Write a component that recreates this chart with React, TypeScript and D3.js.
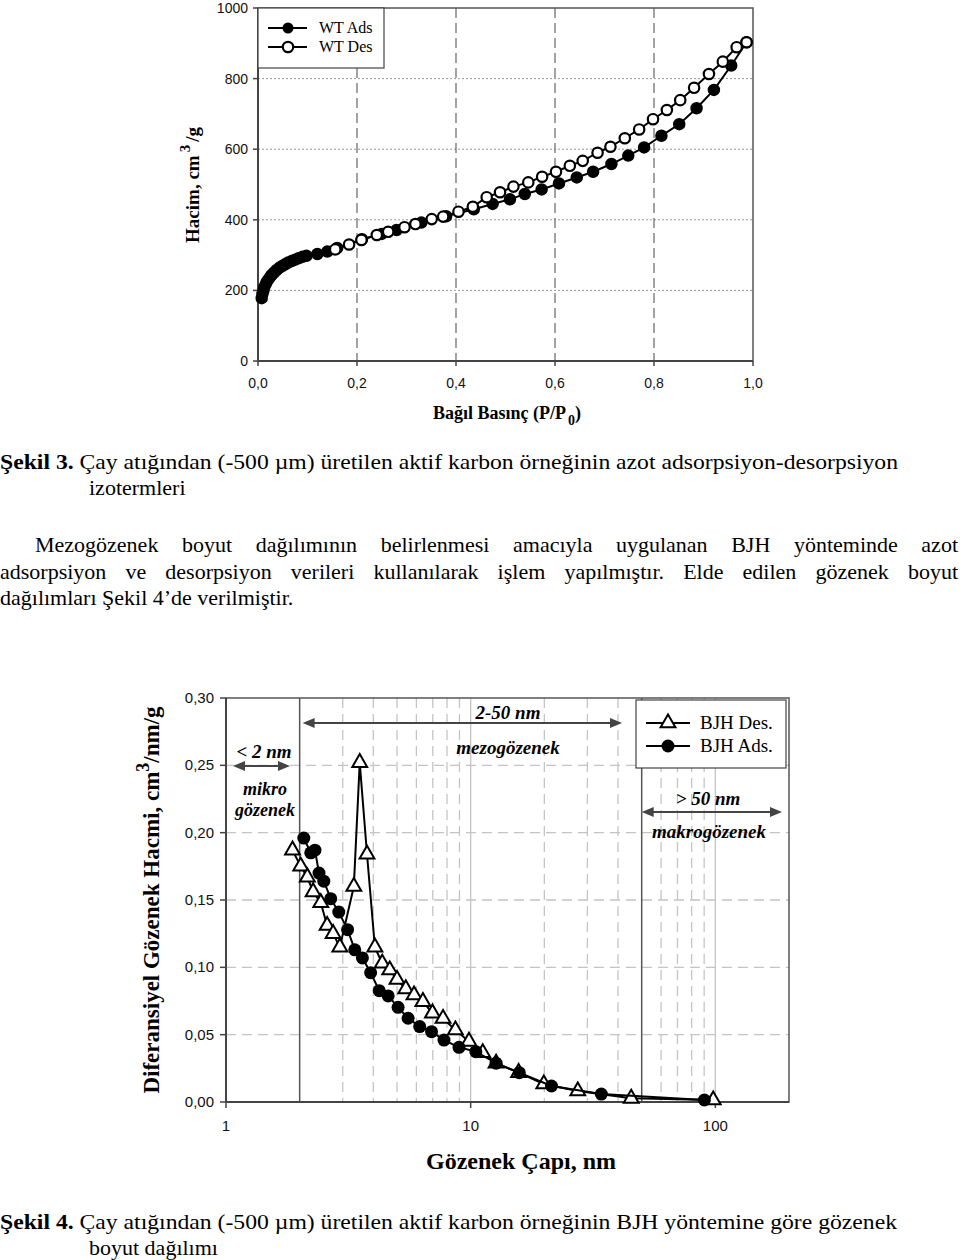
import React, { useLayoutEffect, useRef } from "react";
import * as d3 from "d3";

// ---------- Şekil 3 data (isotherm) ----------
const adsP = [0.0075, 0.009, 0.011, 0.013, 0.016, 0.019, 0.023, 0.027, 0.032, 0.037, 0.043, 0.049, 0.055, 0.061, 0.068, 0.075, 0.082, 0.09, 0.098, 0.12, 0.14, 0.16, 0.21, 0.25, 0.28, 0.33, 0.38, 0.436, 0.474, 0.509, 0.539, 0.573, 0.608, 0.644, 0.677, 0.714, 0.748, 0.78, 0.815, 0.851, 0.886, 0.921, 0.956, 0.987];
const adsV = [178, 190, 200, 210, 219, 227, 235, 243, 250, 257, 264, 269, 274, 279, 283, 287, 291, 295, 298, 303, 310, 320, 345, 360, 371, 392, 410, 430, 445, 458, 473, 486, 503, 520, 536, 558, 582, 605, 638, 671, 716, 768, 837, 903];
const desP = [0.987, 0.967, 0.939, 0.911, 0.881, 0.853, 0.826, 0.798, 0.77, 0.741, 0.712, 0.686, 0.656, 0.63, 0.602, 0.574, 0.546, 0.516, 0.489, 0.462, 0.434, 0.405, 0.374, 0.351, 0.318, 0.296, 0.263, 0.24, 0.209, 0.184, 0.156];
const desV = [903, 889, 848, 813, 774, 739, 711, 685, 656, 631, 607, 590, 567, 553, 536, 522, 506, 494, 478, 464, 437, 423, 409, 402, 388, 379, 366, 357, 343, 330, 316];
const isoXTicks = [0, 0.2, 0.4, 0.6, 0.8, 1.0];
const isoYTicks = [0, 200, 400, 600, 800, 1000];

// ---------- Şekil 4 data (BJH) ----------
const bjhDesD = [1.87, 2.02, 2.15, 2.27, 2.44, 2.59, 2.74, 2.92, 3.33, 3.52, 3.77, 4.06, 4.35, 4.67, 5.0, 5.43, 5.87, 6.38, 6.98, 7.71, 8.66, 9.84, 11.2, 12.7, 15.7, 19.9, 27.4, 45.3, 98];
const bjhDesV = [0.187, 0.175, 0.167, 0.156, 0.148, 0.131, 0.125, 0.115, 0.16, 0.252, 0.184, 0.115, 0.103, 0.098, 0.091, 0.084, 0.0795, 0.0745, 0.066, 0.062, 0.0535, 0.045, 0.0366, 0.0288, 0.0218, 0.0134, 0.0082, 0.0027, 0.0015];
const bjhAdsD = [2.08, 2.22, 2.31, 2.4, 2.51, 2.68, 2.89, 3.14, 3.36, 3.61, 3.9, 4.23, 4.6, 5.05, 5.55, 6.19, 6.92, 7.78, 8.96, 10.5, 12.7, 15.8, 21.4, 34.2, 90.2];
const bjhAdsV = [0.196, 0.185, 0.187, 0.17, 0.164, 0.151, 0.141, 0.128, 0.113, 0.107, 0.096, 0.0827, 0.0788, 0.0703, 0.0622, 0.056, 0.0522, 0.046, 0.0406, 0.0374, 0.0288, 0.0218, 0.0119, 0.0059, 0.0015];
const bjhXTicks = [1, 10, 100];
const bjhYTicks = [0, 0.05, 0.1, 0.15, 0.2, 0.25, 0.3];
const bjhMinor = [2, 3, 4, 5, 6, 7, 8, 9, 20, 30, 40, 50, 60, 70, 80, 90];

const SERIF = "'Liberation Serif', 'Times New Roman', serif";
const SANS = "'Liberation Sans', Arial, sans-serif";

function Justified(props: any) {
  const ref = useRef<SVGTextElement | null>(null);
  const { x, y, width, fontSize, children } = props;
  useLayoutEffect(() => {
    const el = ref.current;
    if (!el) return;
    el.setAttribute("word-spacing", "0");
    const len = el.getComputedTextLength();
    const txt = el.textContent || "";
    const spaces = (txt.match(/ /g) || []).length;
    if (spaces > 0) el.setAttribute("word-spacing", String((width - len) / spaces));
  }, [width]);
  return (
    <text ref={ref} x={x} y={y} fontSize={fontSize} fontFamily={SERIF} fill="#000">
      {children}
    </text>
  );
}

function Arrow({ x1, x2, y, both }: any) {
  const h = 8, w = 5;
  return (
    <g>
      <line x1={x1 + (both ? h : 0)} x2={x2 - h} y1={y} y2={y} stroke="#444" strokeWidth={2} />
      <path d={`M${x2},${y}L${x2 - h - 4},${y - w}L${x2 - h - 4},${y + w}Z`} fill="#444" />
      <path d={`M${x1},${y}L${x1 + h + 4},${y - w}L${x1 + h + 4},${y + w}Z`} fill="#444" />
    </g>
  );
}

export default function App() {
  // Top chart scales
  const xT = d3.scaleLinear().domain([0, 1]).range([258, 753]);
  const yT = d3.scaleLinear().domain([0, 1000]).range([361, 8]);
  const lineT = d3.line<[number, number]>().x((d) => xT(d[0])).y((d) => yT(d[1]));
  const adsPts: [number, number][] = adsP.map((p, i) => [p, adsV[i]]);
  const desPts: [number, number][] = desP.map((p, i) => [p, desV[i]]);

  // Bottom chart scales
  const xB = d3.scaleLog().domain([1, 200]).range([226, 789]);
  const yB = d3.scaleLinear().domain([0, 0.3]).range([1102, 698]);
  const lineB = d3.line<[number, number]>().x((d) => xB(d[0])).y((d) => yB(d[1]));
  const bDes: [number, number][] = bjhDesD.map((d, i) => [d, bjhDesV[i]]);
  const bAds: [number, number][] = bjhAdsD.map((d, i) => [d, bjhAdsV[i]]);
  const tri = d3.symbol().type(d3.symbolTriangle).size(95)();
  const fmt2 = (v: number) => v.toFixed(2).replace(".", ",");
  const fmt1 = (v: number) => v.toFixed(1).replace(".", ",");

  const [tx0, tx1] = xT.range();
  const [ty0, ty1] = yT.range();
  const [bx0, bx1] = xB.range();
  const [by0, by1] = yB.range();

  return (
    <svg width={960} height={1260} style={{ position: "absolute", left: 0, top: 0, background: "#fff" }}>
      <rect x={0} y={0} width={960} height={1260} fill="#fff" />

      {/* ================= TOP CHART ================= */}
      {isoYTicks.filter((t) => t > 0 && t < 1000).map((t) => (
        <line key={"hg" + t} x1={tx0} x2={tx1} y1={yT(t)} y2={yT(t)} stroke="#999" strokeWidth={1} strokeDasharray="2,2" />
      ))}
      {isoXTicks.filter((t) => t > 0 && t < 1).map((t) => (
        <line key={"vg" + t} x1={xT(t)} x2={xT(t)} y1={ty1} y2={ty0} stroke="#666" strokeWidth={1.2} strokeDasharray="10,5" />
      ))}
      <rect x={tx0} y={ty1} width={tx1 - tx0} height={ty0 - ty1} fill="none" stroke="#555" strokeWidth={1.5} />
      <line x1={tx0} x2={tx0} y1={ty1} y2={ty0} stroke="#444" strokeWidth={2} />
      <line x1={tx0} x2={tx1} y1={ty0} y2={ty0} stroke="#444" strokeWidth={2} />
      {isoYTicks.map((t) => (
        <g key={"yt" + t}>
          <line x1={tx0 - 5} x2={tx0} y1={yT(t)} y2={yT(t)} stroke="#444" strokeWidth={1.5} />
          <text x={248} y={yT(t) + 5} textAnchor="end" fontSize={14} fontFamily={SANS} fill="#111">{t}</text>
        </g>
      ))}
      {isoXTicks.map((t) => (
        <g key={"xt" + t}>
          <line x1={xT(t)} x2={xT(t)} y1={ty0} y2={ty0 + 5} stroke="#444" strokeWidth={1.5} />
          <text x={xT(t)} y={388} textAnchor="middle" fontSize={14} fontFamily={SANS} fill="#111">{fmt1(t)}</text>
        </g>
      ))}
      <path d={lineT(adsPts) || ""} fill="none" stroke="#000" strokeWidth={2} />
      {adsPts.map((d, i) => (
        <circle key={"a" + i} cx={xT(d[0])} cy={yT(d[1])} r={5.5} fill="#000" stroke="#000" strokeWidth={1.5} />
      ))}
      <path d={lineT(desPts) || ""} fill="none" stroke="#000" strokeWidth={2} />
      {desPts.map((d, i) => (
        <circle key={"d" + i} cx={xT(d[0])} cy={yT(d[1])} r={5.2} fill="#fff" stroke="#000" strokeWidth={2.2} />
      ))}
      {/* legend */}
      <rect x={tx0} y={ty1} width={126} height={60} fill="#fff" stroke="#444" strokeWidth={1.2} />
      <line x1={268} x2={307} y1={28} y2={28} stroke="#000" strokeWidth={2.2} />
      <circle cx={288} cy={28} r={5.5} fill="#000" />
      <text x={319} y={33} fontSize={16} fontFamily={SERIF}>WT Ads</text>
      <line x1={268} x2={307} y1={47} y2={47} stroke="#000" strokeWidth={2.2} />
      <circle cx={288} cy={47} r={5.2} fill="#fff" stroke="#000" strokeWidth={2.2} />
      <text x={319} y={52} fontSize={16} fontFamily={SERIF}>WT Des</text>
      {/* axis titles */}
      <text transform="translate(199,185) rotate(-90)" textAnchor="middle" fontSize={19} fontWeight="bold" fontFamily={SERIF}>
        Hacim, cm<tspan dx={3} dy={-9} fontSize={15}>3</tspan><tspan dx={3} dy={9}>/g</tspan>
      </text>
      <text x={507} y={419} textAnchor="middle" fontSize={18} fontWeight="bold" fontFamily={SERIF}>
        Bağıl Basınç (P/P<tspan dx={2} dy={6} fontSize={14}>0</tspan><tspan dy={-6}>)</tspan>
      </text>

      {/* ================= TEXT ================= */}
      <text x={0} y={469} fontSize={22} fontFamily={SERIF} textLength={898} lengthAdjust="spacingAndGlyphs">
        <tspan fontWeight="bold">Şekil 3.</tspan> Çay atığından (-500 µm) üretilen aktif karbon örneğinin azot adsorpsiyon-desorpsiyon
      </text>
      <text x={89} y={495} fontSize={22} fontFamily={SERIF}>izotermleri</text>
      <Justified x={35} y={552} width={923} fontSize={22}>Mezogözenek boyut dağılımının belirlenmesi amacıyla uygulanan BJH yönteminde azot</Justified>
      <Justified x={0} y={579} width={958} fontSize={22}>adsorpsiyon ve desorpsiyon verileri kullanılarak işlem yapılmıştır. Elde edilen gözenek boyut</Justified>
      <text x={0} y={605} fontSize={22} fontFamily={SERIF}>dağılımları Şekil 4’de verilmiştir.</text>

      {/* ================= BOTTOM CHART ================= */}
      {bjhYTicks.filter((t) => t > 0 && t < 0.3).map((t) => (
        <line key={"bhg" + t} x1={bx0} x2={bx1} y1={yB(t)} y2={yB(t)} stroke="#c4c4c4" strokeWidth={1.3} strokeDasharray="10,6" />
      ))}
      {bjhMinor.filter((t) => t !== 2 && t !== 50).map((t) => (
        <line key={"bvg" + t} x1={xB(t)} x2={xB(t)} y1={by1} y2={by0} stroke="#c4c4c4" strokeWidth={1.3} strokeDasharray="10,6" />
      ))}
      {[10, 100].map((t) => (
        <line key={"bmg" + t} x1={xB(t)} x2={xB(t)} y1={by1} y2={by0} stroke="#c4c4c4" strokeWidth={1.3} />
      ))}
      <line x1={xB(2)} x2={xB(2)} y1={by1} y2={by0} stroke="#555" strokeWidth={1.5} />
      <line x1={xB(50)} x2={xB(50)} y1={by1} y2={by0} stroke="#555" strokeWidth={1.5} />
      <rect x={bx0} y={by1} width={bx1 - bx0} height={by0 - by1} fill="none" stroke="#555" strokeWidth={1.5} />
      <line x1={bx0} x2={bx0} y1={by1} y2={by0} stroke="#444" strokeWidth={2} />
      <line x1={bx0} x2={bx1} y1={by0} y2={by0} stroke="#444" strokeWidth={2} />
      {bjhYTicks.map((t) => (
        <g key={"byt" + t}>
          <line x1={bx0 - 6} x2={bx0} y1={yB(t)} y2={yB(t)} stroke="#444" strokeWidth={1.5} />
          <text x={214} y={yB(t) + 5} textAnchor="end" fontSize={15} fontFamily={SANS} fill="#111">{fmt2(t)}</text>
        </g>
      ))}
      {bjhXTicks.map((t) => (
        <g key={"bxt" + t}>
          <line x1={xB(t)} x2={xB(t)} y1={by0} y2={by0 + 6} stroke="#444" strokeWidth={1.5} />
          <text x={xB(t)} y={1131} textAnchor="middle" fontSize={15} fontFamily={SANS} fill="#111">{t}</text>
        </g>
      ))}
      {/* series */}
      <path d={lineB(bDes) || ""} fill="none" stroke="#000" strokeWidth={2} />
      {bDes.map((d, i) => (
        <path key={"bd" + i} d={tri || ""} transform={`translate(${xB(d[0])},${yB(d[1])})`} fill="#fff" stroke="#000" strokeWidth={2} />
      ))}
      <path d={lineB(bAds) || ""} fill="none" stroke="#000" strokeWidth={2} />
      {bAds.map((d, i) => (
        <circle key={"ba" + i} cx={xB(d[0])} cy={yB(d[1])} r={6.5} fill="#000" />
      ))}
      {/* annotations */}
      <text x={264} y={758} textAnchor="middle" fontSize={19} fontWeight="bold" fontStyle="italic" fontFamily={SERIF}>&lt; 2 nm</text>
      <Arrow x1={233} x2={290} y={766} both />
      <text x={265} y={795} textAnchor="middle" fontSize={18} fontWeight="bold" fontStyle="italic" fontFamily={SERIF}>mikro</text>
      <text x={265} y={816} textAnchor="middle" fontSize={18} fontWeight="bold" fontStyle="italic" fontFamily={SERIF}>gözenek</text>
      <Arrow x1={xB(2) + 3} x2={622} y={723} both />
      <text x={508} y={719} textAnchor="middle" fontSize={19} fontWeight="bold" fontStyle="italic" fontFamily={SERIF}>2-50 nm</text>
      <text x={508} y={754} textAnchor="middle" fontSize={19} fontWeight="bold" fontStyle="italic" fontFamily={SERIF}>mezogözenek</text>
      <text x={708} y={805} textAnchor="middle" fontSize={19} fontWeight="bold" fontStyle="italic" fontFamily={SERIF}>&gt; 50 nm</text>
      <Arrow x1={xB(50)} x2={782} y={812} both />
      <text x={709} y={838} textAnchor="middle" fontSize={19} fontWeight="bold" fontStyle="italic" fontFamily={SERIF}>makrogözenek</text>
      {/* legend */}
      <rect x={636} y={700} width={150} height={68} fill="#fff" stroke="#444" strokeWidth={1.2} />
      <line x1={646} x2={690} y1={723} y2={723} stroke="#000" strokeWidth={2} />
      <path d={tri || ""} transform="translate(668,723)" fill="#fff" stroke="#000" strokeWidth={2} />
      <text x={700} y={729} fontSize={19} fontFamily={SERIF}>BJH Des.</text>
      <line x1={646} x2={690} y1={746} y2={746} stroke="#000" strokeWidth={2} />
      <circle cx={668} cy={746} r={6.5} fill="#000" />
      <text x={700} y={752} fontSize={19} fontFamily={SERIF}>BJH Ads.</text>
      {/* axis titles */}
      <text transform="translate(159,900) rotate(-90)" textAnchor="middle" fontSize={23} fontWeight="bold" fontFamily={SERIF}>
        Diferansiyel Gözenek Hacmi, cm<tspan dy={-10} fontSize={18}>3</tspan><tspan dy={10}>/nm/g</tspan>
      </text>
      <text x={521} y={1169} textAnchor="middle" fontSize={24} fontWeight="bold" fontFamily={SERIF}>Gözenek Çapı, nm</text>

      {/* caption 4 */}
      <text x={0} y={1229} fontSize={22} fontFamily={SERIF} textLength={897} lengthAdjust="spacingAndGlyphs">
        <tspan fontWeight="bold">Şekil 4.</tspan> Çay atığından (-500 µm) üretilen aktif karbon örneğinin BJH yöntemine göre gözenek
      </text>
      <text x={89} y={1255} fontSize={22} fontFamily={SERIF}>boyut dağılımı</text>
    </svg>
  );
}
